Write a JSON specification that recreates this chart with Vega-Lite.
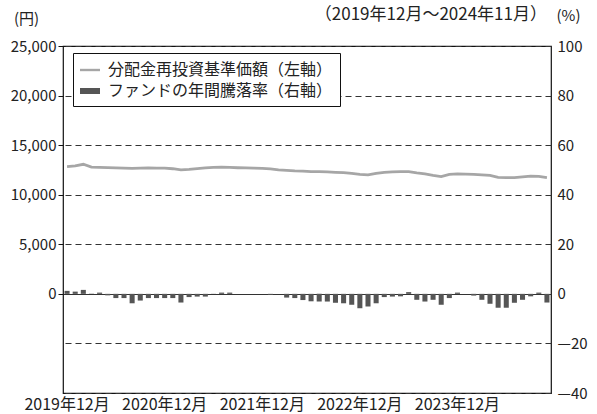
{
  "$schema": "https://vega.github.io/schema/vega-lite/v6.json",
  "width": 488,
  "height": 347,
  "autosize": {"type": "none"},
  "padding": {"left": 63, "top": 46, "right": 46, "bottom": 21},
  "background": "white",
  "config": {
    "font": "Noto Sans CJK JP",
    "view": {"stroke": "#111111", "strokeWidth": 1.2},
    "axis": {"labelColor": "#222222", "titleColor": "#222222", "labelFontSize": 15, "titleFontSize": 15, "titleFontWeight": "normal"}
  },
  "title": {
    "text": "（2019年12月～2024年11月）",
    "anchor": "end",
    "frame": "group",
    "fontSize": 17,
    "fontWeight": "normal",
    "color": "#222222",
    "offset": -16,
    "dx": -4
  },
  "data": {
    "values": [
      {"month": "2019年12月", "nav": 12830, "pct": 1.2},
      {"month": "2020年1月", "nav": 12900, "pct": 0.9},
      {"month": "2020年2月", "nav": 13070, "pct": 1.6},
      {"month": "2020年3月", "nav": 12780, "pct": 0.1},
      {"month": "2020年4月", "nav": 12750, "pct": 0.5},
      {"month": "2020年5月", "nav": 12730, "pct": -0.6},
      {"month": "2020年6月", "nav": 12700, "pct": -1.7},
      {"month": "2020年7月", "nav": 12680, "pct": -1.7},
      {"month": "2020年8月", "nav": 12650, "pct": -3.8},
      {"month": "2020年9月", "nav": 12680, "pct": -2.7},
      {"month": "2020年10月", "nav": 12700, "pct": -1.7},
      {"month": "2020年11月", "nav": 12690, "pct": -1.7},
      {"month": "2020年12月", "nav": 12680, "pct": -1.7},
      {"month": "2021年1月", "nav": 12620, "pct": -1.7},
      {"month": "2021年2月", "nav": 12500, "pct": -3.5},
      {"month": "2021年3月", "nav": 12560, "pct": -1.3},
      {"month": "2021年4月", "nav": 12640, "pct": -1.1},
      {"month": "2021年5月", "nav": 12700, "pct": -1.1},
      {"month": "2021年6月", "nav": 12760, "pct": -0.1},
      {"month": "2021年7月", "nav": 12780, "pct": 0.5},
      {"month": "2021年8月", "nav": 12750, "pct": 0.5},
      {"month": "2021年9月", "nav": 12720, "pct": 0},
      {"month": "2021年10月", "nav": 12700, "pct": 0},
      {"month": "2021年11月", "nav": 12680, "pct": 0},
      {"month": "2021年12月", "nav": 12660, "pct": 0},
      {"month": "2022年1月", "nav": 12600, "pct": -0.4},
      {"month": "2022年2月", "nav": 12500, "pct": 0},
      {"month": "2022年3月", "nav": 12450, "pct": -1.5},
      {"month": "2022年4月", "nav": 12400, "pct": -1.7},
      {"month": "2022年5月", "nav": 12380, "pct": -2.5},
      {"month": "2022年6月", "nav": 12330, "pct": -3.0},
      {"month": "2022年7月", "nav": 12320, "pct": -3.1},
      {"month": "2022年8月", "nav": 12300, "pct": -3.1},
      {"month": "2022年9月", "nav": 12260, "pct": -3.6},
      {"month": "2022年10月", "nav": 12230, "pct": -3.8},
      {"month": "2022年11月", "nav": 12150, "pct": -4.4},
      {"month": "2022年12月", "nav": 12050, "pct": -5.8},
      {"month": "2023年1月", "nav": 12000, "pct": -5.1},
      {"month": "2023年2月", "nav": 12150, "pct": -3.8},
      {"month": "2023年3月", "nav": 12260, "pct": -1.3},
      {"month": "2023年4月", "nav": 12300, "pct": -1.1},
      {"month": "2023年5月", "nav": 12330, "pct": -1.0},
      {"month": "2023年6月", "nav": 12320, "pct": 0.7},
      {"month": "2023年7月", "nav": 12200, "pct": -2.4},
      {"month": "2023年8月", "nav": 12100, "pct": -3.1},
      {"month": "2023年9月", "nav": 11950, "pct": -2.4},
      {"month": "2023年10月", "nav": 11830, "pct": -4.4},
      {"month": "2023年11月", "nav": 12050, "pct": -1.7},
      {"month": "2023年12月", "nav": 12100, "pct": 0.5},
      {"month": "2024年1月", "nav": 12080, "pct": 0},
      {"month": "2024年2月", "nav": 12050, "pct": -0.7},
      {"month": "2024年3月", "nav": 12000, "pct": -2.4},
      {"month": "2024年4月", "nav": 11950, "pct": -4.0},
      {"month": "2024年5月", "nav": 11750, "pct": -5.6},
      {"month": "2024年6月", "nav": 11720, "pct": -5.6},
      {"month": "2024年7月", "nav": 11720, "pct": -3.6},
      {"month": "2024年8月", "nav": 11800, "pct": -2.4},
      {"month": "2024年9月", "nav": 11880, "pct": -1.0},
      {"month": "2024年10月", "nav": 11850, "pct": 0.5},
      {"month": "2024年11月", "nav": 11720, "pct": -3.5}
    ]
  },
  "encoding": {
    "x": {
      "field": "month",
      "type": "ordinal",
      "sort": null,
      "scale": {"paddingInner": 0.38, "paddingOuter": 0.19},
      "axis": {
        "title": null,
        "values": ["2019年12月", "2020年12月", "2021年12月", "2022年12月", "2023年12月"],
        "bandPosition": 0,
        "labelAngle": 0,
        "ticks": false,
        "domain": false,
        "labelPadding": 3,
        "labelFontSize": 16,
        "labelOverlap": false
      }
    }
  },
  "layer": [
    {
      "mark": {"type": "bar", "color": "#555555"},
      "encoding": {
        "y": {
          "field": "pct",
          "type": "quantitative",
          "scale": {"domain": [-40, 100], "nice": false, "zero": false},
          "axis": {
            "orient": "right",
            "values": [-40, -20, 0, 20, 40, 60, 80, 100],
            "labelExpr": "datum.value < 0 ? '—' + abs(datum.value) : datum.value",
            "grid": true,
            "gridColor": "#333333",
            "gridWidth": 1.2,
            "gridDash": {"condition": {"test": "datum.value === 0", "value": [1, 0]}, "value": [6, 4]},
            "ticks": false,
            "domain": false,
            "labelPadding": 6,
            "title": "(%)",
            "titleAngle": 0,
            "titleAlign": "center",
            "titleBaseline": "middle",
            "titleX": 17,
            "titleY": -31
          }
        },
        "color": {
          "datum": "ファンドの年間騰落率（右軸）",
          "type": "nominal",
          "scale": {"domain": ["分配金再投資基準価額（左軸）", "ファンドの年間騰落率（右軸）"], "range": ["#a6a6a6", "#555555"]},
          "legend": {
            "title": null,
            "orient": "none",
            "legendX": 10,
            "legendY": 7,
            "symbolSize": 400,
            "labelFontSize": 16,
            "labelColor": "#222222",
            "labelOffset": 8,
            "labelLimit": 400,
            "rowPadding": 3,
            "padding": 7,
            "strokeColor": "#111111",
            "fillColor": "white",
            "cornerRadius": 0,
            "encoding": {
              "symbols": {
                "shape": {"condition": {"test": "datum.value === 'ファンドの年間騰落率（右軸）'", "value": "M-1,-0.3H1V0.3H-1Z"}, "value": "M-1,-0.12H1V0.12H-1Z"},
                "fill": {"condition": {"test": "datum.value === 'ファンドの年間騰落率（右軸）'", "value": "#555555"}, "value": "#a6a6a6"},
                "stroke": {"value": "transparent"},
                "strokeWidth": {"value": 0},
                "opacity": {"value": 1},
                "fillOpacity": {"value": 1}
              }
            }
          }
        }
      }
    },
    {
      "mark": {"type": "line", "strokeWidth": 2.8, "color": "#a6a6a6"},
      "encoding": {
        "y": {
          "field": "nav",
          "type": "quantitative",
          "scale": {"domain": [-10000, 25000], "nice": false, "zero": false},
          "axis": {
            "orient": "left",
            "values": [0, 5000, 10000, 15000, 20000, 25000],
            "format": ",d",
            "grid": false,
            "ticks": true,
            "tickSize": 5,
            "tickColor": "#111111",
            "domain": false,
            "labelPadding": 2,
            "title": "(円)",
            "titleAngle": 0,
            "titleAlign": "center",
            "titleBaseline": "middle",
            "titleX": -37,
            "titleY": -28
          }
        },
        "color": {
          "datum": "分配金再投資基準価額（左軸）",
          "type": "nominal",
          "legend": {
            "title": null,
            "orient": "none",
            "legendX": 10,
            "legendY": 7,
            "symbolSize": 400,
            "labelFontSize": 16,
            "labelColor": "#222222",
            "labelOffset": 8,
            "labelLimit": 400,
            "rowPadding": 3,
            "padding": 7,
            "strokeColor": "#111111",
            "fillColor": "white",
            "cornerRadius": 0,
            "encoding": {
              "symbols": {
                "shape": {"condition": {"test": "datum.value === 'ファンドの年間騰落率（右軸）'", "value": "M-1,-0.3H1V0.3H-1Z"}, "value": "M-1,-0.12H1V0.12H-1Z"},
                "fill": {"condition": {"test": "datum.value === 'ファンドの年間騰落率（右軸）'", "value": "#555555"}, "value": "#a6a6a6"},
                "stroke": {"value": "transparent"},
                "strokeWidth": {"value": 0},
                "opacity": {"value": 1},
                "fillOpacity": {"value": 1}
              }
            }
          }
        }
      }
    }
  ],
  "resolve": {"scale": {"y": "independent"}}
}
